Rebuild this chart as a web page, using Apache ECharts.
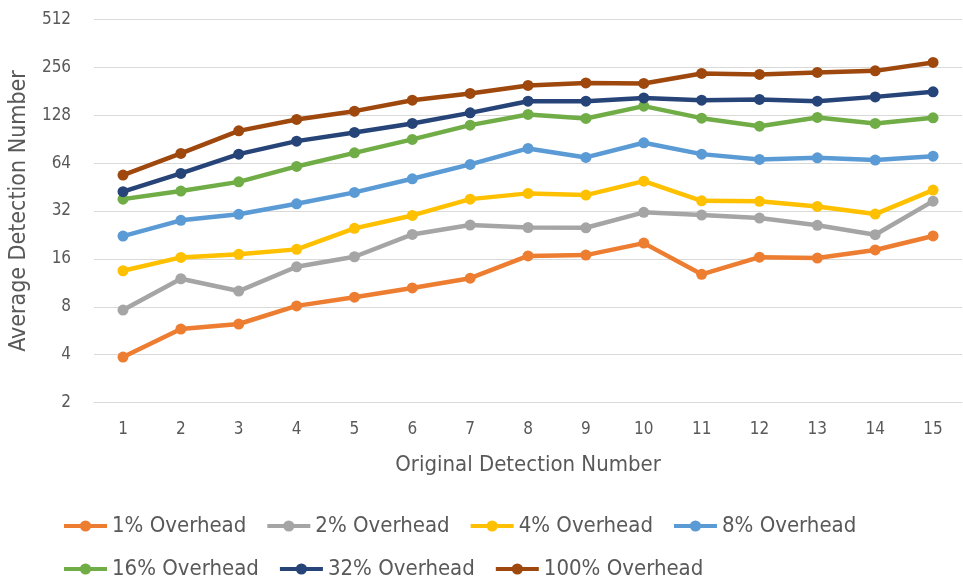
<!DOCTYPE html>
<html>
<head>
<meta charset="utf-8">
<script src="https://cdn.jsdelivr.net/npm/echarts@6/dist/echarts.min.js"></script>
<style>
  html, body { margin: 0; padding: 0; background: #fff; }
  #chart { width: 963px; height: 581px; }
</style>
</head>
<body>
<div id="chart"></div>
<script>
// Detection counts per original detection number, one list per overhead level
const categories = ['1','2','3','4','5','6','7','8','9','10','11','12','13','14','15'];
const yTicks = [2, 4, 8, 16, 32, 64, 128, 256, 512];

const overhead1   = [3.86, 5.79, 6.23, 8.1, 9.19, 10.5, 12.1, 16.7, 16.9, 20.1, 12.8, 16.4, 16.2, 18.2, 22.3];
const overhead2   = [7.63, 12.0, 10.04, 14.27, 16.5, 22.8, 26.1, 25.2, 25.1, 31.4, 30.2, 28.9, 26.0, 22.7, 36.9];
const overhead4   = [13.47, 16.35, 17.08, 18.36, 24.9, 30.0, 38.0, 41.3, 40.3, 49.3, 37.1, 36.8, 34.2, 30.6, 43.3];
const overhead8   = [22.25, 27.97, 30.5, 35.5, 41.9, 51.0, 62.8, 79.2, 69.5, 85.9, 72.9, 67.5, 69.1, 66.9, 70.8];
const overhead16  = [38.0, 42.7, 48.8, 61.0, 74.3, 90.2, 110.9, 129.5, 122.2, 146.0, 122.7, 109.3, 124.0, 113.7, 123.3];
const overhead32  = [42.3, 55.1, 72.9, 88.0, 99.8, 113.7, 132.5, 156.9, 156.9, 164.6, 159.2, 160.9, 156.9, 167.0, 179.6];
const overhead100 = [53.8, 73.7, 102.1, 120.4, 135.8, 159.2, 175.5, 197.0, 204.5, 202.8, 234.4, 231.0, 237.8, 243.4, 274.8];

const seriesNames = ['1% Overhead', '2% Overhead', '4% Overhead', '8% Overhead',
                     '16% Overhead', '32% Overhead', '100% Overhead'];
const seriesData = [overhead1, overhead2, overhead4, overhead8, overhead16, overhead32, overhead100];
const colors = ['#ED7D31', '#A5A5A5', '#FFC000', '#5B9BD5', '#70AD47', '#264478', '#9E480E'];

const FONT = "'Liberation Sans Narrow', 'DejaVu Sans Condensed', 'Liberation Sans', sans-serif";
const TEXT = '#595959';

const chart = echarts.init(document.getElementById('chart'), null, { renderer: 'canvas' });

// Two legend rows laid out on fixed-width slots
const legendBase = {
  left: 62,
  orient: 'horizontal',
  itemWidth: 43,
  itemHeight: 14,
  itemGap: 19,
  padding: 0,
  lineStyle: { width: 4 },
  textStyle: { fontFamily: FONT, fontSize: 22, color: TEXT, width: 146, overflow: 'none' }
};

chart.setOption({
  animation: false,
  color: colors,
  textStyle: { fontFamily: FONT },
  grid: { left: 92, right: 1, top: 19.5, bottom: 178.5, containLabel: false },
  legend: [
    Object.assign({}, legendBase, { top: 515, data: seriesNames.slice(0, 4) }),
    Object.assign({}, legendBase, { top: 558, data: seriesNames.slice(4) })
  ],
  xAxis: {
    type: 'category',
    data: categories,
    boundaryGap: true,
    name: 'Original Detection Number',
    nameLocation: 'middle',
    nameGap: 52,
    nameTextStyle: { fontFamily: FONT, fontSize: 22, color: TEXT },
    axisLine: { show: true, lineStyle: { color: '#D9D9D9', width: 1 } },
    axisTick: { show: false },
    axisLabel: { fontFamily: FONT, fontSize: 17, color: TEXT, margin: 19 },
    splitLine: { show: false }
  },
  yAxis: {
    type: 'log',
    logBase: 2,
    min: yTicks[0],
    max: yTicks[yTicks.length - 1],
    name: 'Average Detection Number',
    nameLocation: 'middle',
    nameGap: 48,
    nameRotate: 90,
    nameTextStyle: { fontFamily: FONT, fontSize: 23, color: TEXT },
    axisLine: { show: false },
    axisTick: { show: false },
    axisLabel: { fontFamily: FONT, fontSize: 17, color: TEXT, margin: 23 },
    splitLine: { show: true, lineStyle: { color: '#D9D9D9', width: 1 } }
  },
  series: seriesNames.map((name, i) => ({
    name: name,
    type: 'line',
    data: seriesData[i],
    symbol: 'circle',
    symbolSize: 11,
    showSymbol: true,
    lineStyle: { width: 4.5, color: colors[i] },
    itemStyle: { color: colors[i] },
    z: 2 + i
  }))
});
</script>
</body>
</html>
